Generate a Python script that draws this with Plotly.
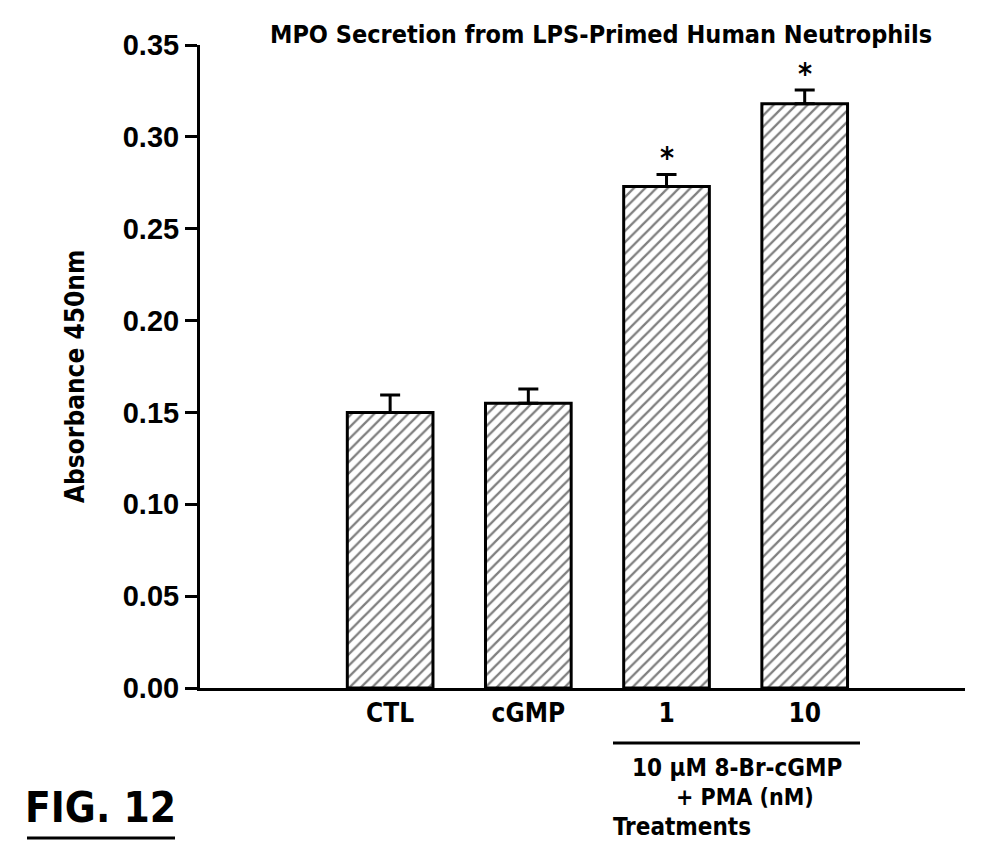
import plotly.graph_objects as go

categories = ["CTL", "cGMP", "1", "10"]
values = [0.150, 0.155, 0.273, 0.318]
errors = [0.0095, 0.0078, 0.0065, 0.0075]
significant = [False, False, True, True]
y_ticks = [0.00, 0.05, 0.10, 0.15, 0.20, 0.25, 0.30, 0.35]

OFF = 8                      # default page body margin
W, H = 982 - OFF, 850 - OFF  # figure size
L, R, T, B = 200, 965, 45, 688   # plot area in screen px

def px(x):
    return (x - L) / (R - L)

def py(y):
    return (B - y) / (B - T)

FONT = "DejaVu Sans Condensed, Liberation Sans Narrow, Liberation Sans"
positions = [1, 2, 3, 4]

fig = go.Figure()
fig.add_trace(go.Bar(
    x=positions, y=values, width=0.62,
    marker=dict(color="white",
                line=dict(color="black", width=3),
                pattern=dict(shape="/", fgcolor="black", bgcolor="white",
                             size=8, solidity=0.28)),
    error_y=dict(type="data", symmetric=False, array=errors,
                 arrayminus=[0]*len(values), color="black",
                 thickness=3, width=10),
    showlegend=False,
))

for p, v, e, s in zip(positions, values, errors, significant):
    if s:
        fig.add_annotation(x=p, y=v + e, yshift=17, text="*",
                           showarrow=False, xref="x", yref="y",
                           xanchor="center", yanchor="middle",
                           font=dict(family=FONT, size=30, color="black", weight="bold"))

fig.update_xaxes(range=[-0.376, 5.16], tickvals=positions, ticktext=categories,
                 showline=True, linecolor="black", linewidth=3, ticks="",
                 showgrid=False, zeroline=False,
                 tickfont=dict(family=FONT, size=26, color="black", weight="bold"))
fig.update_yaxes(range=[0, 0.35], tickvals=y_ticks, tickformat=".2f",
                 showline=True, linecolor="black", linewidth=3,
                 ticks="outside", ticklen=12, tickwidth=3, tickcolor="black",
                 showgrid=False, zeroline=False,
                 tickfont=dict(family="Liberation Sans", size=29, color="black", weight="bold"))

def ann(x, y, text, size, **kw):
    fig.add_annotation(x=px(x), y=py(y), xref="paper", yref="paper", text=text,
                       showarrow=False, xanchor="center", yanchor="middle",
                       font=dict(family=FONT, size=size, color="black", weight="bold"), **kw)

ann(601, 35, "MPO Secretion from LPS-Primed Human Neutrophils", 25)
ann(75, 377, "Absorbance 450nm", 26, textangle=-90)
ann(737, 768, "10 \u03bcM 8-Br-cGMP", 24)
ann(745, 797, "+ PMA (nM)", 23)
ann(682, 827, "Treatments", 24)
ann(100, 807, "FIG. 12", 42)

fig.add_shape(type="line", xref="paper", yref="paper",
              x0=px(613), x1=px(860), y0=py(743), y1=py(743),
              line=dict(color="black", width=3))
fig.add_shape(type="line", xref="paper", yref="paper",
              x0=px(27), x1=px(175), y0=py(838), y1=py(838),
              line=dict(color="black", width=3))

fig.update_layout(width=W, height=H, plot_bgcolor="white", paper_bgcolor="white",
                  margin=dict(l=L - OFF, r=W - (R - OFF), t=T - OFF, b=H - (B - OFF)),
                  bargap=0.3)

fig.write_html("out.html")
